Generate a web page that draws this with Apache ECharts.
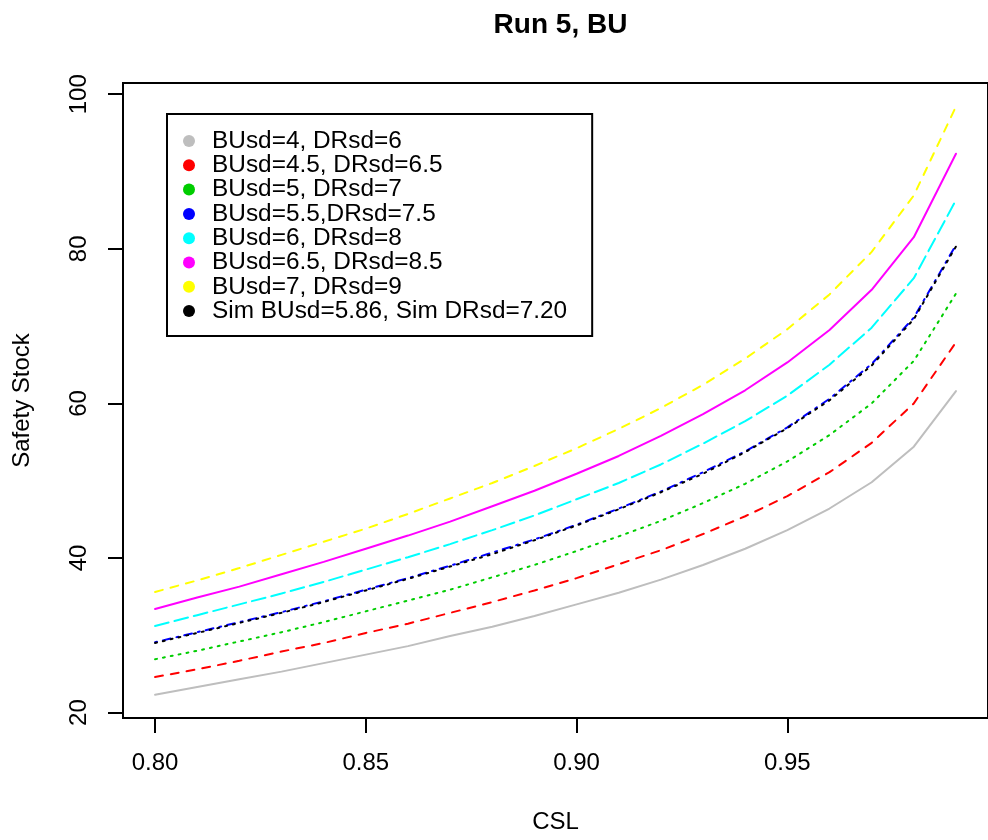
<!DOCTYPE html>
<html>
<head>
<meta charset="utf-8">
<title>Run 5, BU</title>
<script src="https://cdn.jsdelivr.net/npm/echarts@6/dist/echarts.min.js"></script>
<style>
  html, body { margin: 0; padding: 0; background: #fff; }
  #chart { width: 988px; height: 840px; }
</style>
</head>
<body>
<div id="chart"></div>
<script>
// CSL levels on the x axis
var csl = [0.80, 0.81, 0.82, 0.83, 0.84, 0.85, 0.86, 0.87, 0.88, 0.89,
           0.90, 0.91, 0.92, 0.93, 0.94, 0.95, 0.96, 0.97, 0.98, 0.99];

// safety stock, one array per curve
var bu4   = [22.3, 23.3, 24.3, 25.3, 26.4, 27.5, 28.6, 29.9, 31.1, 32.5,
             34.0, 35.5, 37.2, 39.1, 41.2, 43.6, 46.4, 49.8, 54.4, 61.6];
var bu45  = [24.6, 25.6, 26.7, 27.9, 29.0, 30.3, 31.5, 32.9, 34.3, 35.8,
             37.4, 39.2, 41.0, 43.1, 45.4, 48.0, 51.1, 54.9, 60.0, 67.9];
var bu5   = [26.9, 28.0, 29.2, 30.4, 31.7, 33.1, 34.5, 35.9, 37.5, 39.1,
             40.9, 42.8, 44.8, 47.1, 49.6, 52.5, 55.9, 60.0, 65.5, 74.2];
var bu55  = [29.1, 30.4, 31.7, 33.0, 34.4, 35.9, 37.4, 39.0, 40.7, 42.4,
             44.3, 46.4, 48.6, 51.1, 53.8, 56.9, 60.6, 65.1, 71.1, 80.5];
var bu6   = [31.2, 32.6, 34.0, 35.4, 36.9, 38.5, 40.1, 41.8, 43.6, 45.5,
             47.6, 49.7, 52.1, 54.8, 57.7, 61.0, 65.0, 69.8, 76.2, 86.3];
var bu65  = [33.4, 34.9, 36.3, 37.9, 39.5, 41.2, 42.9, 44.7, 46.7, 48.7,
             50.9, 53.2, 55.8, 58.6, 61.7, 65.3, 69.5, 74.7, 81.5, 92.3];
var bu7   = [35.6, 37.1, 38.7, 40.4, 42.1, 43.8, 45.7, 47.7, 49.7, 51.9,
             54.2, 56.7, 59.4, 62.4, 65.8, 69.6, 74.1, 79.6, 86.9, 98.4];
var sim   = [29.0, 30.3, 31.6, 32.9, 34.3, 35.8, 37.3, 38.9, 40.5, 42.3,
             44.2, 46.3, 48.5, 50.9, 53.7, 56.8, 60.4, 64.9, 70.9, 80.3];

var seriesNames = ['BUsd=4, DRsd=6', 'BUsd=4.5, DRsd=6.5', 'BUsd=5, DRsd=7',
                   'BUsd=5.5,DRsd=7.5', 'BUsd=6, DRsd=8', 'BUsd=6.5, DRsd=8.5',
                   'BUsd=7, DRsd=9', 'Sim BUsd=5.86, Sim DRsd=7.20'];
var seriesData = [bu4, bu45, bu5, bu55, bu6, bu65, bu7, sim];

var xTicks = [0.80, 0.85, 0.90, 0.95];
var yTicks = [20, 40, 60, 80, 100];

// R colours and lty 1:5 recycled
var colors = ['#BEBEBE', '#FF0000', '#00CD00', '#0000FF', '#00FFFF', '#FF00FF', '#FFFF00', '#000000'];
var dashes = ['solid', [8, 8], [2, 6], [2, 6, 8, 6], [14, 6], 'solid', [8, 8], [2, 6]];

var FONT = "'Liberation Sans', Arial, Helvetica, sans-serif";

function buildSeries() {
	var out = [];
	for (var i = 0; i < seriesData.length; i++) {
		var pts = [];
		for (var j = 0; j < csl.length; j++) pts.push([csl[j], seriesData[i][j]]);
		out.push({
			name: seriesNames[i],
			type: 'line',
			data: pts,
			symbol: 'none',
			silent: true,
			color: colors[i],
			lineStyle: { color: colors[i], width: 2, type: dashes[i], cap: 'round' },
			itemStyle: { color: colors[i] }
		});
	}
	return out;
}

var chart = echarts.init(document.getElementById('chart'), null, { renderer: 'canvas' });

var option = {
	animation: false,
	backgroundColor: '#fff',
	textStyle: { fontFamily: FONT, color: '#000' },
	graphic: [{
		type: 'text',
		x: 560.5,
		y: 25,
		style: {
			text: 'Run 5, BU',
			font: 'bold 28px ' + FONT,
			fill: '#000',
			textAlign: 'center',
			textVerticalAlign: 'middle'
		}
	}],
	grid: {
		left: 123,
		top: 83,
		width: 875,
		height: 635,
		show: true,
		borderColor: '#000',
		borderWidth: 2,
		backgroundColor: 'transparent'
	},
	legend: {
		orient: 'vertical',
		left: 167,
		top: 114,
		padding: [15, 25, 13, 16],
		borderColor: '#000',
		borderWidth: 2,
		backgroundColor: '#fff',
		icon: 'circle',
		itemWidth: 12,
		itemHeight: 12,
		itemGap: 0.3,
		itemStyle: { borderWidth: 0 },
		selectedMode: false,
		textStyle: { fontFamily: FONT, fontSize: 24.4, lineHeight: 24, color: '#000', padding: [0, 0, 0, 12] },
		data: seriesNames
	},
	xAxis: {
		type: 'value',
		min: 0.7924,
		max: 0.9976,
		name: 'CSL',
		nameLocation: 'middle',
		nameGap: 92,
		nameTextStyle: { fontFamily: FONT, fontSize: 24, color: '#000' },
		axisLine: { show: false },
		splitLine: { show: false },
		axisTick: {
			show: true,
			customValues: xTicks,
			length: 15,
			lineStyle: { color: '#000', width: 2 }
		},
		axisLabel: {
			customValues: xTicks,
			margin: 33,
			fontFamily: FONT,
			fontSize: 24,
			color: '#000',
			formatter: function (v) { return v.toFixed(2); }
		}
	},
	yAxis: {
		type: 'value',
		min: 19.3,
		max: 101.45,
		name: 'Safety Stock',
		nameLocation: 'middle',
		nameGap: 89,
		nameTextStyle: { fontFamily: FONT, fontSize: 24, color: '#000' },
		axisLine: { show: false },
		splitLine: { show: false },
		axisTick: {
			show: true,
			customValues: yTicks,
			length: 15,
			lineStyle: { color: '#000', width: 2 }
		},
		axisLabel: {
			customValues: yTicks,
			rotate: 90,
			margin: 32,
			fontFamily: FONT,
			fontSize: 24,
			color: '#000'
		}
	},
	series: buildSeries()
};

chart.setOption(option);
</script>
</body>
</html>
